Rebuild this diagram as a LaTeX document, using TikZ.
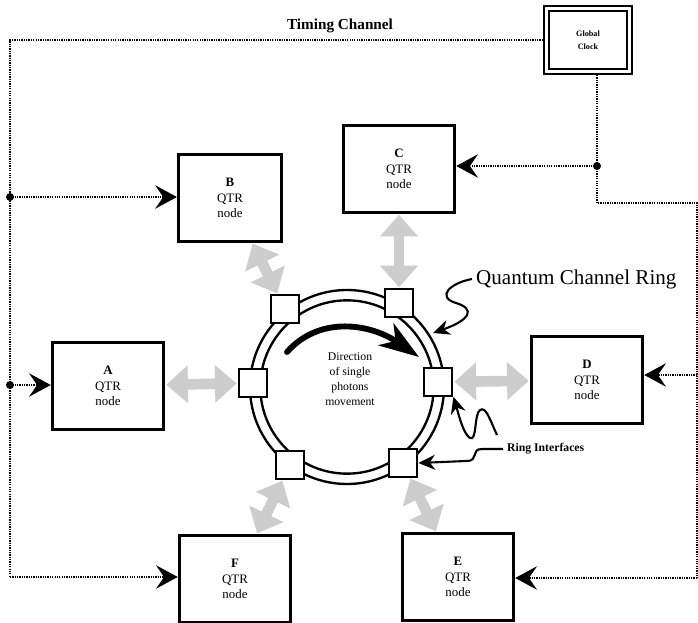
\documentclass[tikz,border=0pt]{standalone}
\usepackage{fontspec}
\setmainfont{Liberation Serif}
\usetikzlibrary{arrows.meta,positioning,calc}
\definecolor{qgray}{RGB}{205,205,205}
\tikzset{
  qnode/.style={draw, line width=2.4pt, minimum width=3.35cm, minimum height=2.6cm,
    align=center, font=\fontsize{11}{13}\selectfont},
  clockbox/.style={draw, double, line width=1.8pt, double distance=2.2pt,
    minimum width=2.5cm, minimum height=1.9cm, align=center,
    font=\fontsize{7}{11}\selectfont\bfseries},
  qport/.style={draw, fill=white, line width=1.8pt, minimum width=0.86cm,
    minimum height=0.82cm, inner sep=0pt},
  tline/.style={line width=2pt, dash pattern=on 1.1pt off 0.9pt},
  tarr/.style={tline, -{Stealth[length=6.5mm, width=7mm, inset=2.4mm]}},
  tdot/.style={circle, fill, inner sep=0pt, minimum size=2.4mm},
  qlink/.style={qgray, line width=3.2mm,
    {Triangle[length=6.5mm,width=11mm]}-{Triangle[length=6.5mm,width=11mm]},
    shorten <=0.3mm, shorten >=0.3mm},
  squig/.style={line width=1.8pt, -{Stealth[length=5mm,width=4.5mm,inset=1.6mm]}}
}
\begin{document}
\begin{tikzpicture}[x=0.03cm, y=-0.03cm]
  \useasboundingbox (0,0) rectangle (698,623);
  % clock and timing channel
  \node[clockbox] (clock) at (588,40) {Global\\Clock};
  \node[font=\fontsize{13}{15}\selectfont\bfseries] (tclab) at (340,26) {Timing Channel};
  % QTR nodes
  \node[qnode, minimum width=3.1cm] (B) at (230,198) {\textbf{B}\\QTR\\node};
  \node[qnode] (C) at (399,169) {\textbf{C}\\QTR\\node};
  \node[qnode] (A) at (108,386) {\textbf{A}\\QTR\\node};
  \node[qnode] (D) at (587,380) {\textbf{D}\\QTR\\node};
  \node[qnode] (F) at (235,579) {\textbf{F}\\QTR\\node};
  \node[qnode] (E) at (458,577) {\textbf{E}\\QTR\\node};
  % ring and interfaces
  \coordinate (ringc) at (347,387);
  \draw[line width=2pt] (ringc) circle[radius=2.91cm] (ringc) circle[radius=2.6cm];
  \node[qport] (p1) at (285,309) {};
  \node[qport] (p2) at (399,303) {};
  \node[qport] (p3) at (253,383) {};
  \node[qport] (p4) at (438,382) {};
  \node[qport] (p5) at (290,465) {};
  \node[qport] (p6) at (403,463) {};
  \node[align=center, font=\fontsize{10}{12.8}\selectfont] (dir) at (350,379)
    {Direction\\of single\\photons\\movement};
  \coordinate (mvs) at (287,352);
  \coordinate (mve) at (419,357);
  \draw[line width=5pt, line cap=round, -{Stealth[length=12mm,width=8mm,inset=3.5mm]}]
    (mvs) .. controls (320,315) and (371,324) .. (mve);
  % gray links between nodes and interfaces
  \draw[qlink] (B) -- (p1);
  \draw[qlink] (C) -- (p2);
  \draw[qlink] (A) -- (p3);
  \draw[qlink] (D) -- (p4);
  \draw[qlink] (F) -- (p5);
  \draw[qlink] (E) -- (p6);
  % labels with pointers
  \node[anchor=west, font=\fontsize{18}{20}\selectfont] (qcr) at (472,279) {Quantum Channel Ring};
  \coordinate (qring) at (433,333);
  \draw[squig] (qcr.west) .. controls (450,283) and (436,297) .. (456,303)
    .. controls (476,309) and (470,320) .. (qring);
  \node[anchor=west, font=\fontsize{10}{12}\selectfont\bfseries] (ri) at (503,449) {Ring Interfaces};
  \coordinate (ris) at (497,435);
  \draw[squig] (ris) .. controls (490,420) and (486,406) .. (480,410)
    .. controls (474,414) and (477,442) .. (470,438)
    .. controls (463,434) and (458,412) .. (p4.south east);
  \draw[squig] (ri.west) -- (482,449) .. controls (470,449) and (480,461) .. (466,461) -- (p6.east);
  % timing lines
  \coordinate (tl) at (10,40);
  \coordinate (lb) at (10,197);
  \coordinate (la) at (10,385);
  \coordinate (lf) at (10,577);
  \coordinate (cc) at (597,166);
  \coordinate (cr) at (597,203);
  \coordinate (rt) at (697,203);
  \coordinate (rd) at (697,375);
  \coordinate (re) at (697,578);
  \draw[tline] (clock.west) -- (tl) -- (lf);
  \draw[tarr] (lf) -- (lf -| F.west);
  \draw[tarr] (lb) -- (lb -| B.west);
  \draw[tarr] (la) -- (la -| A.west);
  \draw[tline] (clock.south -| cc) -- (cr) -- (rt) -- (re);
  \draw[tarr] (cc) -- (cc -| C.east);
  \draw[tarr] (rd) -- (rd -| D.east);
  \draw[tarr] (re) -- (re -| E.east);
  \node[tdot] (dotb) at (lb) {};
  \node[tdot] (dota) at (la) {};
  \node[tdot] (dotc) at (cc) {};
\end{tikzpicture}
\end{document}
